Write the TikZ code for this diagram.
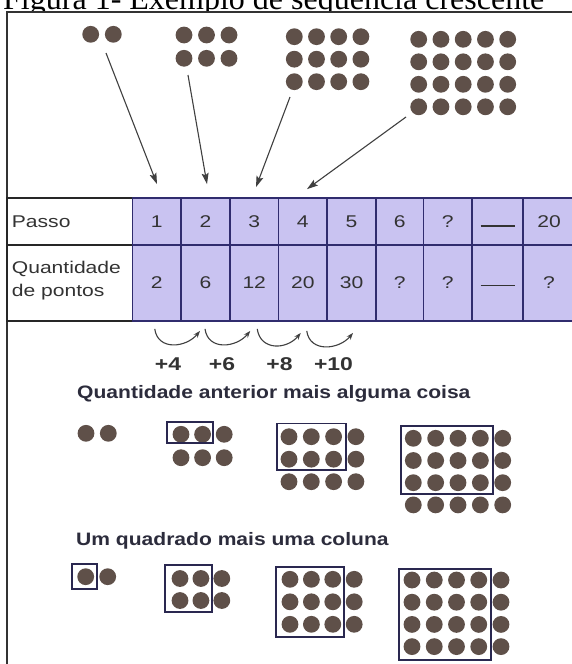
\documentclass[tikz,border=0pt]{standalone}
\usepackage{fontspec}
\setmainfont{Liberation Serif}
\newfontfamily\tabfont[FakeStretch=1.24]{Liberation Sans}
\newfontfamily\headfont[FakeStretch=1.17]{Liberation Sans}
\usetikzlibrary{arrows.meta,calc}
\definecolor{dotc}{HTML}{5F5049}
\definecolor{lav}{HTML}{C9C3F1}
\definecolor{navy}{HTML}{302C6E}
\definecolor{ink}{HTML}{333333}
\definecolor{boxc}{HTML}{2A2850}
\definecolor{headc}{HTML}{2C2C3C}
\newcommand\dotgrid[6]{%
  \foreach \cc in {1,...,#3}{\foreach \rr in {1,...,#4}{%
    \fill[dotfill] ({#1+(\cc-1)*#5},{#2+(\rr-1)*#6}) circle[radius=8.4pt];}}}
\begin{document}
\begin{tikzpicture}[x=1pt,y=-1pt,
  cellbox/.style={draw=navy,line width=1.8pt,fill=lav,inner sep=0pt,font=\tabfont\fontsize{17}{20}\selectfont,text=ink},
  labbox/.style={draw=black!85,line width=1.6pt,fill=white,inner sep=0pt},
  labtxt/.style={anchor=base west,inner sep=0pt,font=\tabfont\fontsize{17}{20}\selectfont,text=ink},
  pointer/.style={draw=black!75,line width=1.1pt,-{Stealth[length=11pt,width=7pt,inset=2pt]}},
  hop/.style={draw=black!75,line width=1.1pt,-{Stealth[length=7pt,width=5pt]}},
  hoplab/.style={anchor=base,inner sep=0pt,font=\tabfont\bfseries\fontsize{18.5}{20}\selectfont,text=ink},
  headtxt/.style={anchor=base west,inner sep=0pt,font=\headfont\bfseries\fontsize{18}{20}\selectfont,text=headc},
  dotfill/.style={fill=dotc},
  grp/.style={draw=boxc,line width=1.9pt},
  frameline/.style={draw=black!80,line width=1.5pt},
  dashline/.style={draw=ink,line width=1.3pt},
]
\useasboundingbox (0,0) rectangle (572,664);
\fill[white] (0,0) rectangle (572,664);
% title (partly cut off at the top, as in the reference)
\node[anchor=base west,inner sep=0pt,font=\fontsize{32}{34}\selectfont] (title) at (3,9.5) {Figura 1- Exemplo de sequência crescente};
\fill[white] (7,11.5) rectangle (572,664);
\draw[frameline] (7,664) -- (7,12) -- (572,12);

% top dot patterns
\dotgrid{90.7}{34.3}{2}{1}{22.6}{0}
\dotgrid{184}{35}{3}{2}{22.5}{23.3}
\dotgrid{294.3}{36.7}{4}{3}{22.2}{22.5}
\dotgrid{418.7}{39.3}{5}{4}{22.25}{22.5}

% table
\node[labbox,minimum width=125.5pt,minimum height=47pt] (lp) at (69.75,221.5) {};
\node[labbox,minimum width=125.5pt,minimum height=76pt] (lq) at (69.75,283) {};
\foreach \n/\l/\r/\ta/\tb in {1/132.5/181/1/2, 2/181/230/2/6, 3/230/278.5/3/12, 4/278.5/327/4/20, 5/327/376/5/30, 6/376/423.5/6/?, 7/423.5/472/?/?, 8/472/523/{}/{}, 9/523/575/20/?}{
  \pgfmathsetmacro\cx{(\l+\r)/2}
  \pgfmathsetmacro\cw{\r-\l}
  \node[cellbox,minimum width=\cw pt,minimum height=47pt] (p\n) at (\cx,221.5) {\raisebox{-2pt}{\ta}};
  \node[cellbox,minimum width=\cw pt,minimum height=76pt] (q\n) at (\cx,283) {\raisebox{-2.5pt}{\tb}};
}
\draw[dashline] ($(p8.center)+(-17,4.5)$) -- ($(p8.center)+(17,4.5)$);
\draw[dashline] ($(q8.center)+(-17,2.5)$) -- ($(q8.center)+(17,2.5)$);
\node[labtxt] (passo) at (11.7,227) {Passo};
\node[labtxt] (quant1) at (11.7,273) {Quantidade};
\node[labtxt] (quant2) at (11.7,296) {de pontos};

% arrows from patterns to steps
\coordinate (s1) at (106,53);
\coordinate (s2) at (188,75);
\coordinate (s3) at (290,97);
\coordinate (s4) at (406,117);
\coordinate (t1) at ($(p1.north)+(0.25,-13)$);
\coordinate (t2) at ($(p2.north)+(1.5,-13)$);
\coordinate (t3) at ($(p3.north)+(1.75,-10)$);
\coordinate (t4) at ($(p4.north)+(4.25,-8)$);
\draw[pointer] (s1) -- (t1);
\draw[pointer] (s2) -- (t2);
\draw[pointer] (s3) -- (t3);
\draw[pointer] (s4) -- (t4);

% hops under the table
\draw[hop] ($(q1.south)+(-2,7)$) .. controls +(3,22) and +(-14,17) .. ($(q2.south)+(-5.5,9)$);
\draw[hop] ($(q2.south)+(-0.5,7)$) .. controls +(3,22) and +(-14,17) .. ($(q3.south)+(-4,9)$);
\draw[hop] ($(q3.south)+(3,7)$) .. controls +(3,22) and +(-14,17) .. ($(q4.south)+(-2,11)$);
\draw[hop] ($(q4.south)+(4,9)$) .. controls +(3,22) and +(-14,17) .. ($(q5.south)+(1.5,11)$);
\node[hoplab] (h1) at (168,370) {+4};
\node[hoplab] (h2) at (222,370) {+6};
\node[hoplab] (h3) at (279.5,370) {+8};
\node[hoplab] (h4) at (333.5,370) {+10};

% section A
\node[headtxt] (ha) at (77,398) {Quantidade anterior mais alguma coisa};
\dotgrid{86}{433.3}{2}{1}{22.3}{0}
\dotgrid{181}{434.3}{3}{2}{21.6}{23.4}
\dotgrid{289}{436.7}{4}{3}{22.3}{22.5}
\dotgrid{413.3}{438.3}{5}{4}{22.35}{22.2}
\draw[grp] (166.7,422.3) rectangle (213.3,443.3);
\draw[grp] (277,423.5) rectangle (346,470);
\draw[grp] (401,426) rectangle (492.7,494);

% section B
\node[headtxt] (hb) at (76,545) {Um quadrado mais uma coluna};
\dotgrid{85.7}{576.7}{2}{1}{22}{0}
\dotgrid{180}{578.5}{3}{2}{20.9}{22}
\dotgrid{290}{579.3}{4}{3}{21.4}{22.5}
\dotgrid{412}{580}{5}{4}{22.25}{22.2}
\draw[grp] (71.7,564.3) rectangle (96.7,589);
\draw[grp] (165,565) rectangle (212.3,611.7);
\draw[grp] (276,566.7) rectangle (344.3,636.7);
\draw[grp] (399.3,569.3) rectangle (491,660);
\end{tikzpicture}
\end{document}
